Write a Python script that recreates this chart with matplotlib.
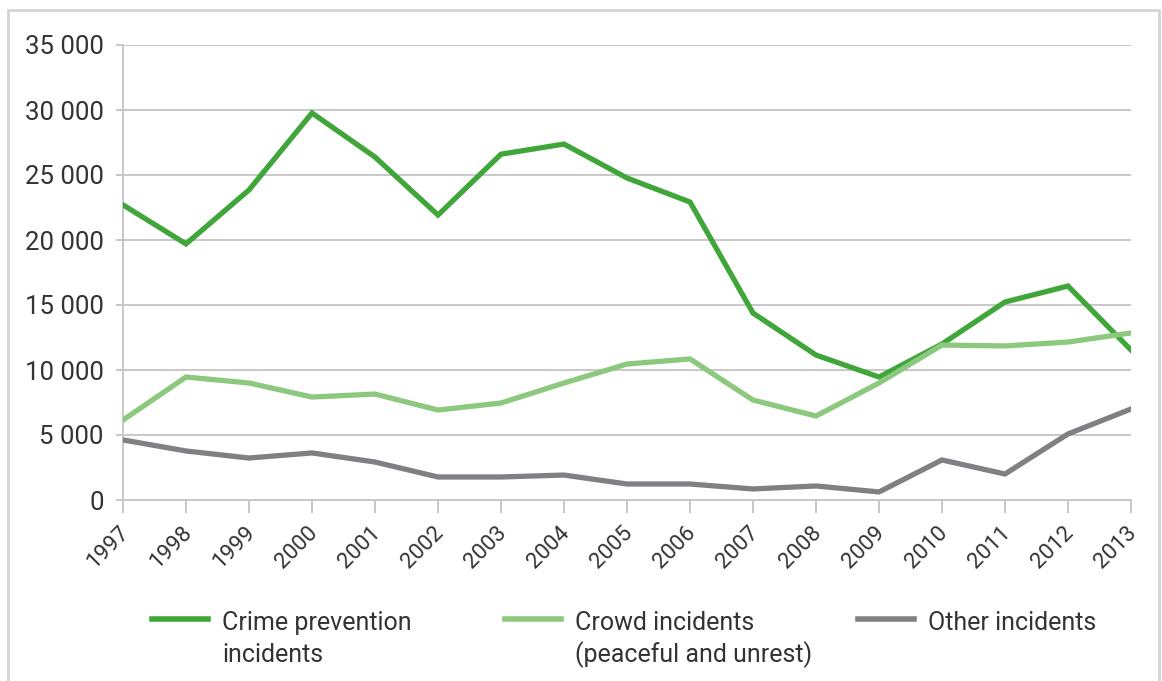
import matplotlib.pyplot as plt
import matplotlib.ticker as mticker
import matplotlib.transforms as mtransforms
from matplotlib.lines import Line2D
from matplotlib.patches import Rectangle

years = list(range(1997, 2014))
crime = [22700, 19700, 23850, 29770, 26380, 21920, 26600, 27380, 24770,
         22920, 14380, 11150, 9460, 12000, 15230, 16460, 11540]
crowd = [6150, 9460, 9000, 7920, 8150, 6920, 7460, 9000, 10460,
         10850, 7690, 6460, 9000, 11920, 11850, 12150, 12850]
other = [4620, 3770, 3230, 3620, 2920, 1770, 1770, 1920, 1230,
         1230, 850, 1080, 620, 3080, 2000, 5080, 7000]

labels = [['Crime prevention', 'incidents'],
          ['Crowd incidents', '(peaceful and unrest)'],
          ['Other incidents']]
colors = ['#40a63a', '#8cc97f', '#808084']
y_ticks = range(0, 35001, 5000)

W, H = 1162, 681
plt.rcParams['font.family'] = ['Roboto', 'DejaVu Sans']
text_col = '#333333'
grid_col = '#c8c8c8'

fig = plt.figure(figsize=(W / 100, H / 100), dpi=100)
ax = fig.add_axes([123 / W, 1 - 500 / H, (1131 - 123) / W, (500 - 45) / H])

for series, c in zip([crime, crowd, other], colors):
    ax.plot(years, series, color=c, lw=3.8, solid_joinstyle='miter', zorder=3)

ax.set_xlim(1997, 2013)
ax.set_ylim(0, 35000)
ax.set_xticks(years)
ax.set_yticks(list(y_ticks))
ax.yaxis.set_major_formatter(mticker.FuncFormatter(lambda v, p: f'{int(v):,}'.replace(',', ' ')))
ax.grid(axis='y', color=grid_col, lw=1.4, zorder=0)
for s in ['top', 'right']:
    ax.spines[s].set_visible(False)
for s in ['left', 'bottom']:
    ax.spines[s].set_color(grid_col)
    ax.spines[s].set_linewidth(1.4)
ax.tick_params(axis='y', length=5, width=1.4, color=grid_col, pad=9,
               labelsize=18.5, labelcolor=text_col)
ax.tick_params(axis='x', length=9.5, width=1.4, color=grid_col, pad=2,
               labelsize=16, labelcolor=text_col)
# rotated year labels, nudged so they hang just below-left of each tick
shift = mtransforms.ScaledTranslation(-5 / 100, -6 / 100, fig.dpi_scale_trans)
for lab in ax.get_xticklabels():
    lab.set_rotation(45)
    lab.set_ha('right')
    lab.set_va('top')
    lab.set_rotation_mode('anchor')
    lab.set_transform(lab.get_transform() + shift)

# frame around the whole graphic
fig.add_artist(Rectangle((8 / W, -0.05), (1159 - 8) / W, 1.05 - 10 / H,
                         transform=fig.transFigure, fill=False,
                         edgecolor='#d4d4d4', lw=2))

# legend
leg_x = [152, 505, 858]
for x0, lines, c in zip(leg_x, labels, colors):
    fig.add_artist(Line2D([x0 / W, (x0 + 56) / W], [1 - 619 / H] * 2,
                          transform=fig.transFigure, color=c, lw=4))
    for i, line in enumerate(lines):
        fig.text((x0 + 70) / W, 1 - (630 + 32 * i) / H, line, fontsize=18,
                 color=text_col, va='baseline', ha='left')

fig.savefig('out.png', dpi=100)
